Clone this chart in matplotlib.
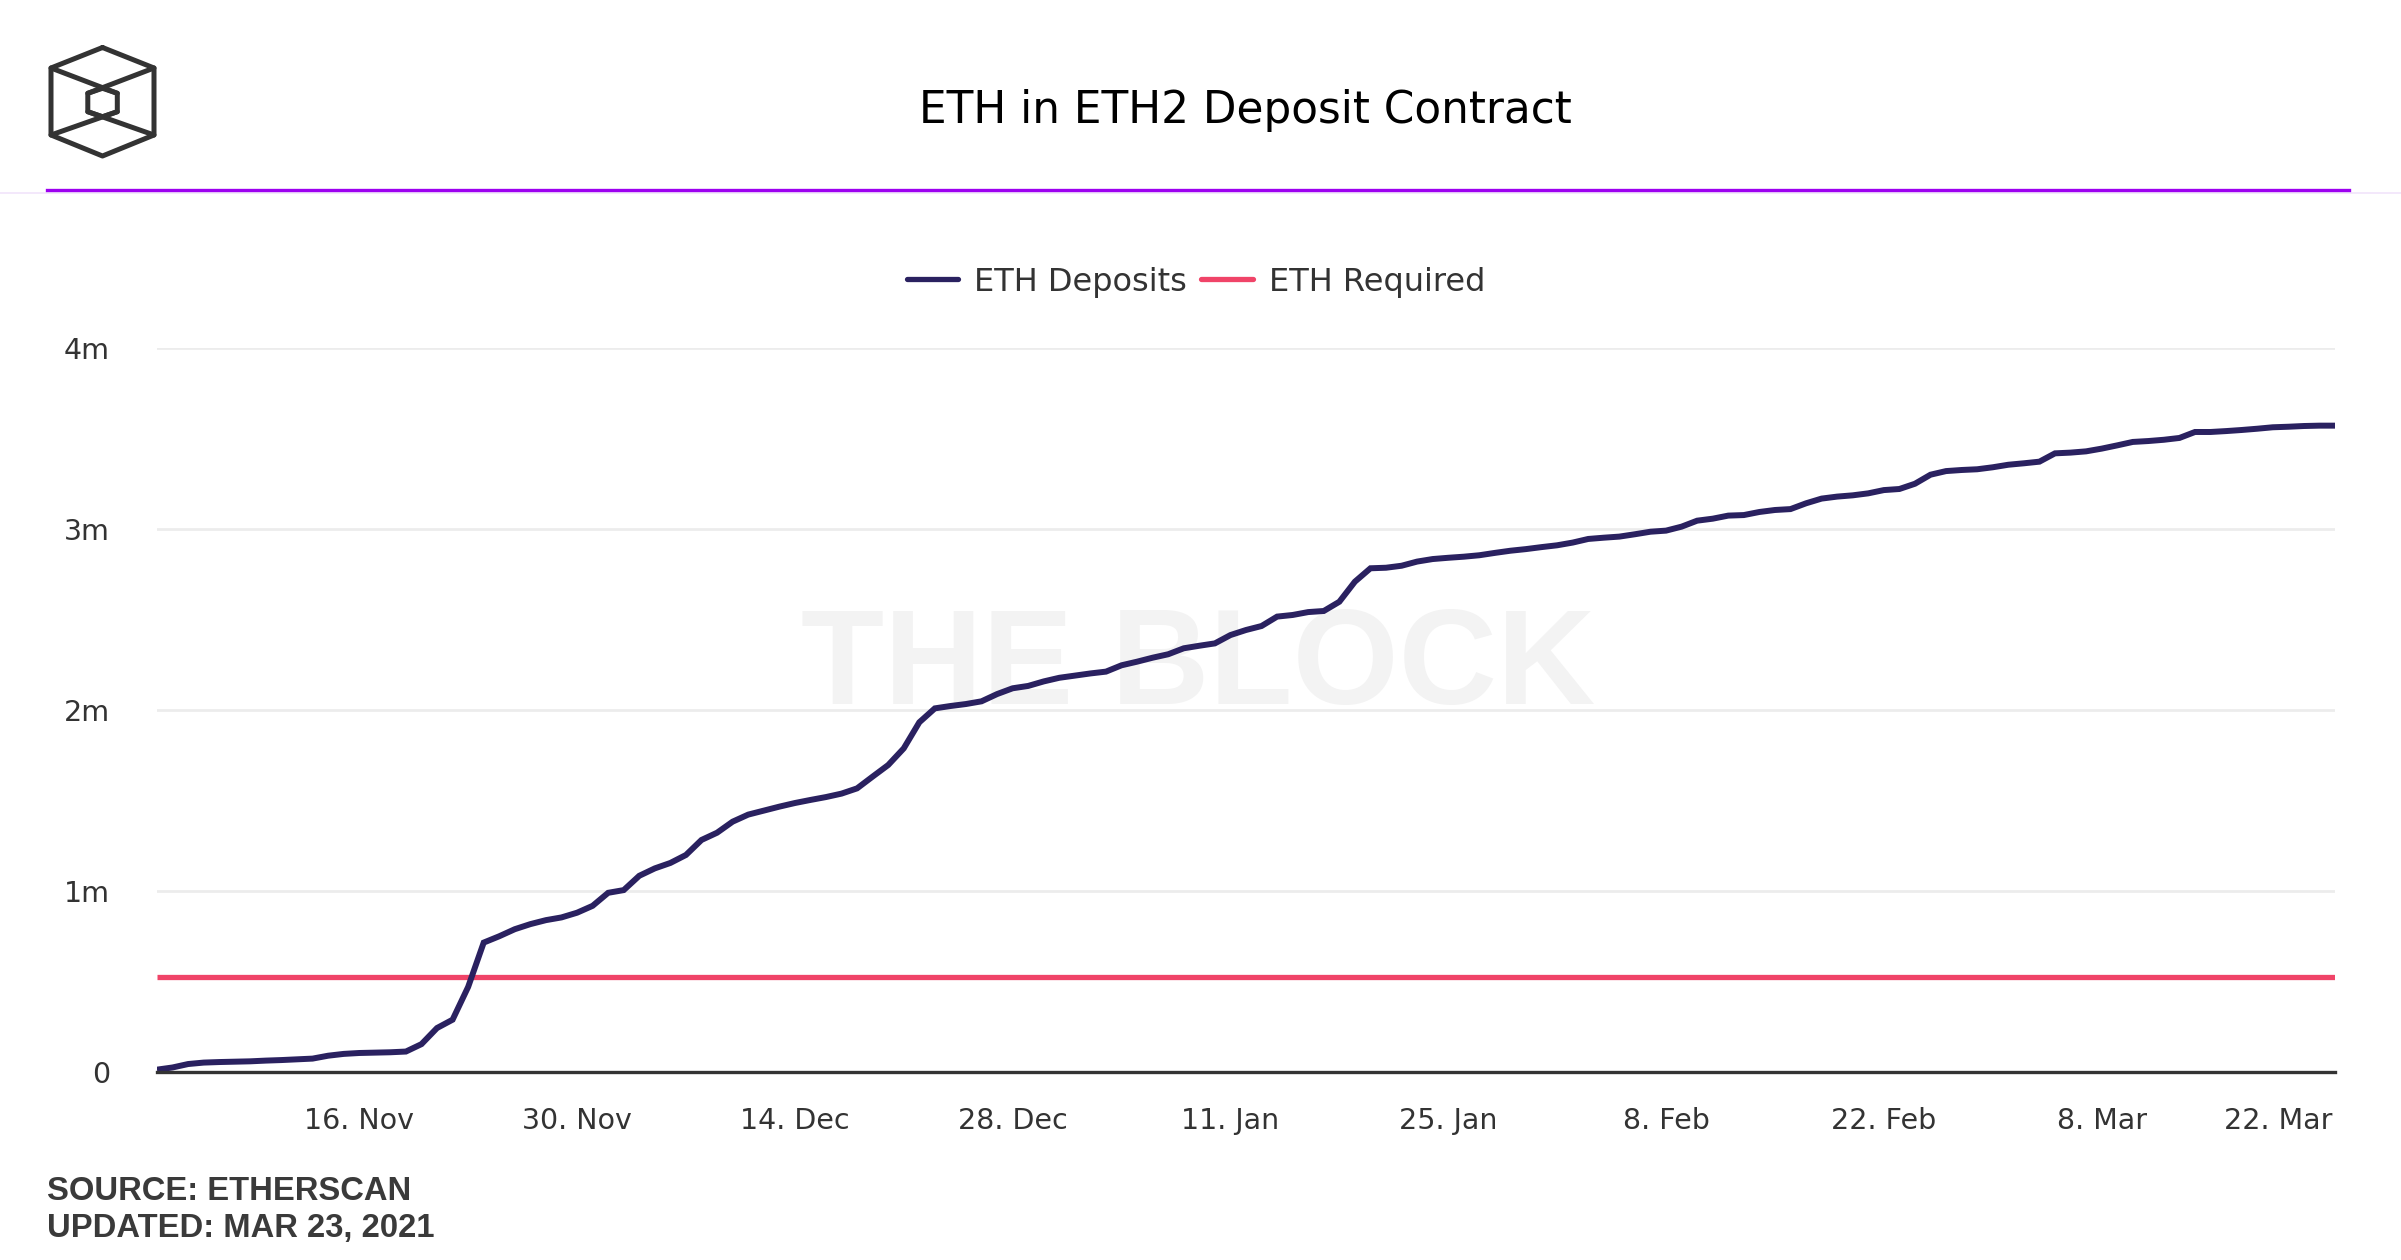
import matplotlib
matplotlib.use("Agg")
import matplotlib.pyplot as plt
from matplotlib.lines import Line2D
import matplotlib.transforms as mtransforms
import numpy as np
import pandas as pd

# ---------------- data ----------------
start_date = "2020-11-03"
eth_deposits_m = [
    0.013, 0.025, 0.044, 0.052, 0.055, 0.057, 0.059, 0.063, 0.066, 0.070,
    0.074, 0.090, 0.100, 0.105, 0.107, 0.109, 0.113, 0.154, 0.243, 0.289,
    0.470, 0.715, 0.750, 0.789, 0.817, 0.839, 0.854, 0.880, 0.918, 0.990,
    1.005, 1.084, 1.125, 1.155, 1.199, 1.282, 1.322, 1.383, 1.422, 1.444,
    1.466, 1.486, 1.503, 1.519, 1.538, 1.567, 1.632, 1.696, 1.788, 1.932,
    2.009, 2.022, 2.033, 2.048, 2.088, 2.120, 2.133, 2.158, 2.178, 2.190,
    2.202, 2.212, 2.247, 2.267, 2.289, 2.308, 2.341, 2.355, 2.368, 2.414,
    2.442, 2.464, 2.516, 2.525, 2.541, 2.547, 2.598, 2.709, 2.783, 2.786,
    2.797, 2.820, 2.834, 2.841, 2.847, 2.855, 2.868, 2.880, 2.889, 2.900,
    2.910, 2.925, 2.945, 2.952, 2.958, 2.971, 2.985, 2.991, 3.013, 3.046,
    3.057, 3.074, 3.077, 3.094, 3.105, 3.110, 3.142, 3.168, 3.179, 3.186,
    3.197, 3.215, 3.221, 3.250, 3.300, 3.320, 3.326, 3.330, 3.341, 3.355,
    3.363, 3.372, 3.418, 3.422, 3.429, 3.444, 3.462, 3.481, 3.486, 3.493,
    3.503, 3.536, 3.536, 3.541, 3.547, 3.554, 3.562, 3.565, 3.569, 3.571,
    3.571,
]
eth_required_m = 0.524288

x_tick_dates = ["2020-11-16", "2020-11-30", "2020-12-14", "2020-12-28", "2021-01-11",
                "2021-01-25", "2021-02-08", "2021-02-22", "2021-03-08", "2021-03-22"]
x_tick_labels = ["16. Nov", "30. Nov", "14. Dec", "28. Dec", "11. Jan",
                 "25. Jan", "8. Feb", "22. Feb", "8. Mar", "22. Mar"]
y_ticks = [0, 1, 2, 3, 4]
y_tick_labels = ["0", "1m", "2m", "3m", "4m"]

title = "ETH in ETH2 Deposit Contract"
series_names = ["ETH Deposits", "ETH Required"]
source_lines = ["SOURCE: ETHERSCAN", "UPDATED: MAR 23, 2021"]
watermark = "THE BLOCK"

# ---------------- style ----------------
W, H = 2401, 1260
DPI = 100
C_DEP = "#2a2160"
C_REQ = "#f04468"
C_TXT = "#333333"
C_GRID = "#ececec"
C_PURPLE = "#9d00f0"

plt.rcParams["font.family"] = ["DejaVu Sans"]

fig = plt.figure(figsize=(W / DPI, H / DPI), dpi=DPI)
fig.patch.set_facecolor("white")

def fx(px):
    return px / W

def fy(py):
    return 1 - py / H

ax = fig.add_axes([fx(157), fy(1072), fx(2335) - fx(157), fy(348) - fy(1072)])
ax.patch.set_alpha(0)

dates = pd.date_range(start_date, periods=len(eth_deposits_m), freq="D")

# watermark
ax.text(0.478, 0.556, watermark, transform=ax.transAxes, ha="center", va="center",
        fontsize=98, fontweight="bold", color="#f3f3f3", family="Liberation Sans",
        zorder=0)

ax.plot(dates, [eth_required_m] * len(dates), color=C_REQ, lw=3.8, zorder=3,
        solid_capstyle="butt")
ax.plot(dates, eth_deposits_m, color=C_DEP, lw=4.3, zorder=4,
        solid_joinstyle="miter", solid_capstyle="butt")

ax.set_xlim(dates[0], dates[-1])
ax.set_ylim(0, 4)

ax.set_yticks(y_ticks)
ax.set_yticklabels(y_tick_labels)
ax.set_xticks(pd.to_datetime(x_tick_dates))
ax.set_xticklabels(x_tick_labels)

ax.tick_params(axis="x", length=0, pad=25, labelsize=20.5, labelcolor=C_TXT)
ax.tick_params(axis="y", length=0, pad=34, labelsize=20.5, labelcolor=C_TXT)

# keep last x label inside the plot area (shifted left like the original)
last_label = ax.xaxis.get_major_ticks()[-1].label1
last_label.set_transform(last_label.get_transform()
                         + mtransforms.ScaledTranslation(-41 / DPI, 0, fig.dpi_scale_trans))

ax.grid(axis="y", color=C_GRID, lw=2.0, zorder=1)
ax.set_axisbelow(True)
for s in ["top", "right", "left"]:
    ax.spines[s].set_visible(False)
ax.spines["bottom"].set_color(C_TXT)
ax.spines["bottom"].set_linewidth(2.4)
ax.spines["bottom"].set_zorder(5)

# title
fig.text(fx(1245), fy(110), title, ha="center", va="center", fontsize=31.5, color="black")

# separator lines
fig.add_artist(Line2D([0, 1], [fy(192.5), fy(192.5)], color="#f1e4fb", lw=1.2))
fig.add_artist(Line2D([fx(47), fx(2349)], [fy(190), fy(190)], color=C_PURPLE, lw=2.4))

# logo
logo_col = "#333333"
segs = [
    [(102.5, 47.5), (51, 68), (51, 135), (102.5, 156), (154, 135), (154, 68), (102.5, 47.5)],
    [(51, 68), (117.3, 93.3)],
    [(154, 68), (87.8, 93.3)],
    [(51, 135), (117.3, 111.7)],
    [(154, 135), (87.8, 111.7)],
    [(102.5, 88.3), (87.8, 93.3), (87.8, 111.7), (102.5, 116.7), (117.3, 111.7), (117.3, 93.3), (102.5, 88.3)],
]
for seg in segs:
    xs = [fx(p[0]) for p in seg]
    ys = [fy(p[1]) for p in seg]
    fig.add_artist(Line2D(xs, ys, color=logo_col, lw=3.6, solid_joinstyle="round",
                          solid_capstyle="round"))

# legend
handles = [Line2D([0], [0], color=C_DEP, lw=3.8, solid_capstyle="round"),
           Line2D([0], [0], color=C_REQ, lw=3.8, solid_capstyle="round")]
leg = fig.legend(handles, series_names, loc="center", bbox_to_anchor=(fx(1196), fy(282)),
                 ncol=2, frameon=False, fontsize=23, handlelength=1.6,
                 handletextpad=0.5, columnspacing=0.45, borderpad=0)
for t in leg.get_texts():
    t.set_color(C_TXT)

# footer
fig.text(fx(47), fy(1191), source_lines[0], ha="left", va="center", fontsize=23.6,
         fontweight="bold", color="#3a3a3a", family="Liberation Sans")
fig.text(fx(47), fy(1228), source_lines[1], ha="left", va="center", fontsize=23.6,
         fontweight="bold", color="#3a3a3a", family="Liberation Sans")

fig.savefig("out.png", dpi=DPI, facecolor="white")
